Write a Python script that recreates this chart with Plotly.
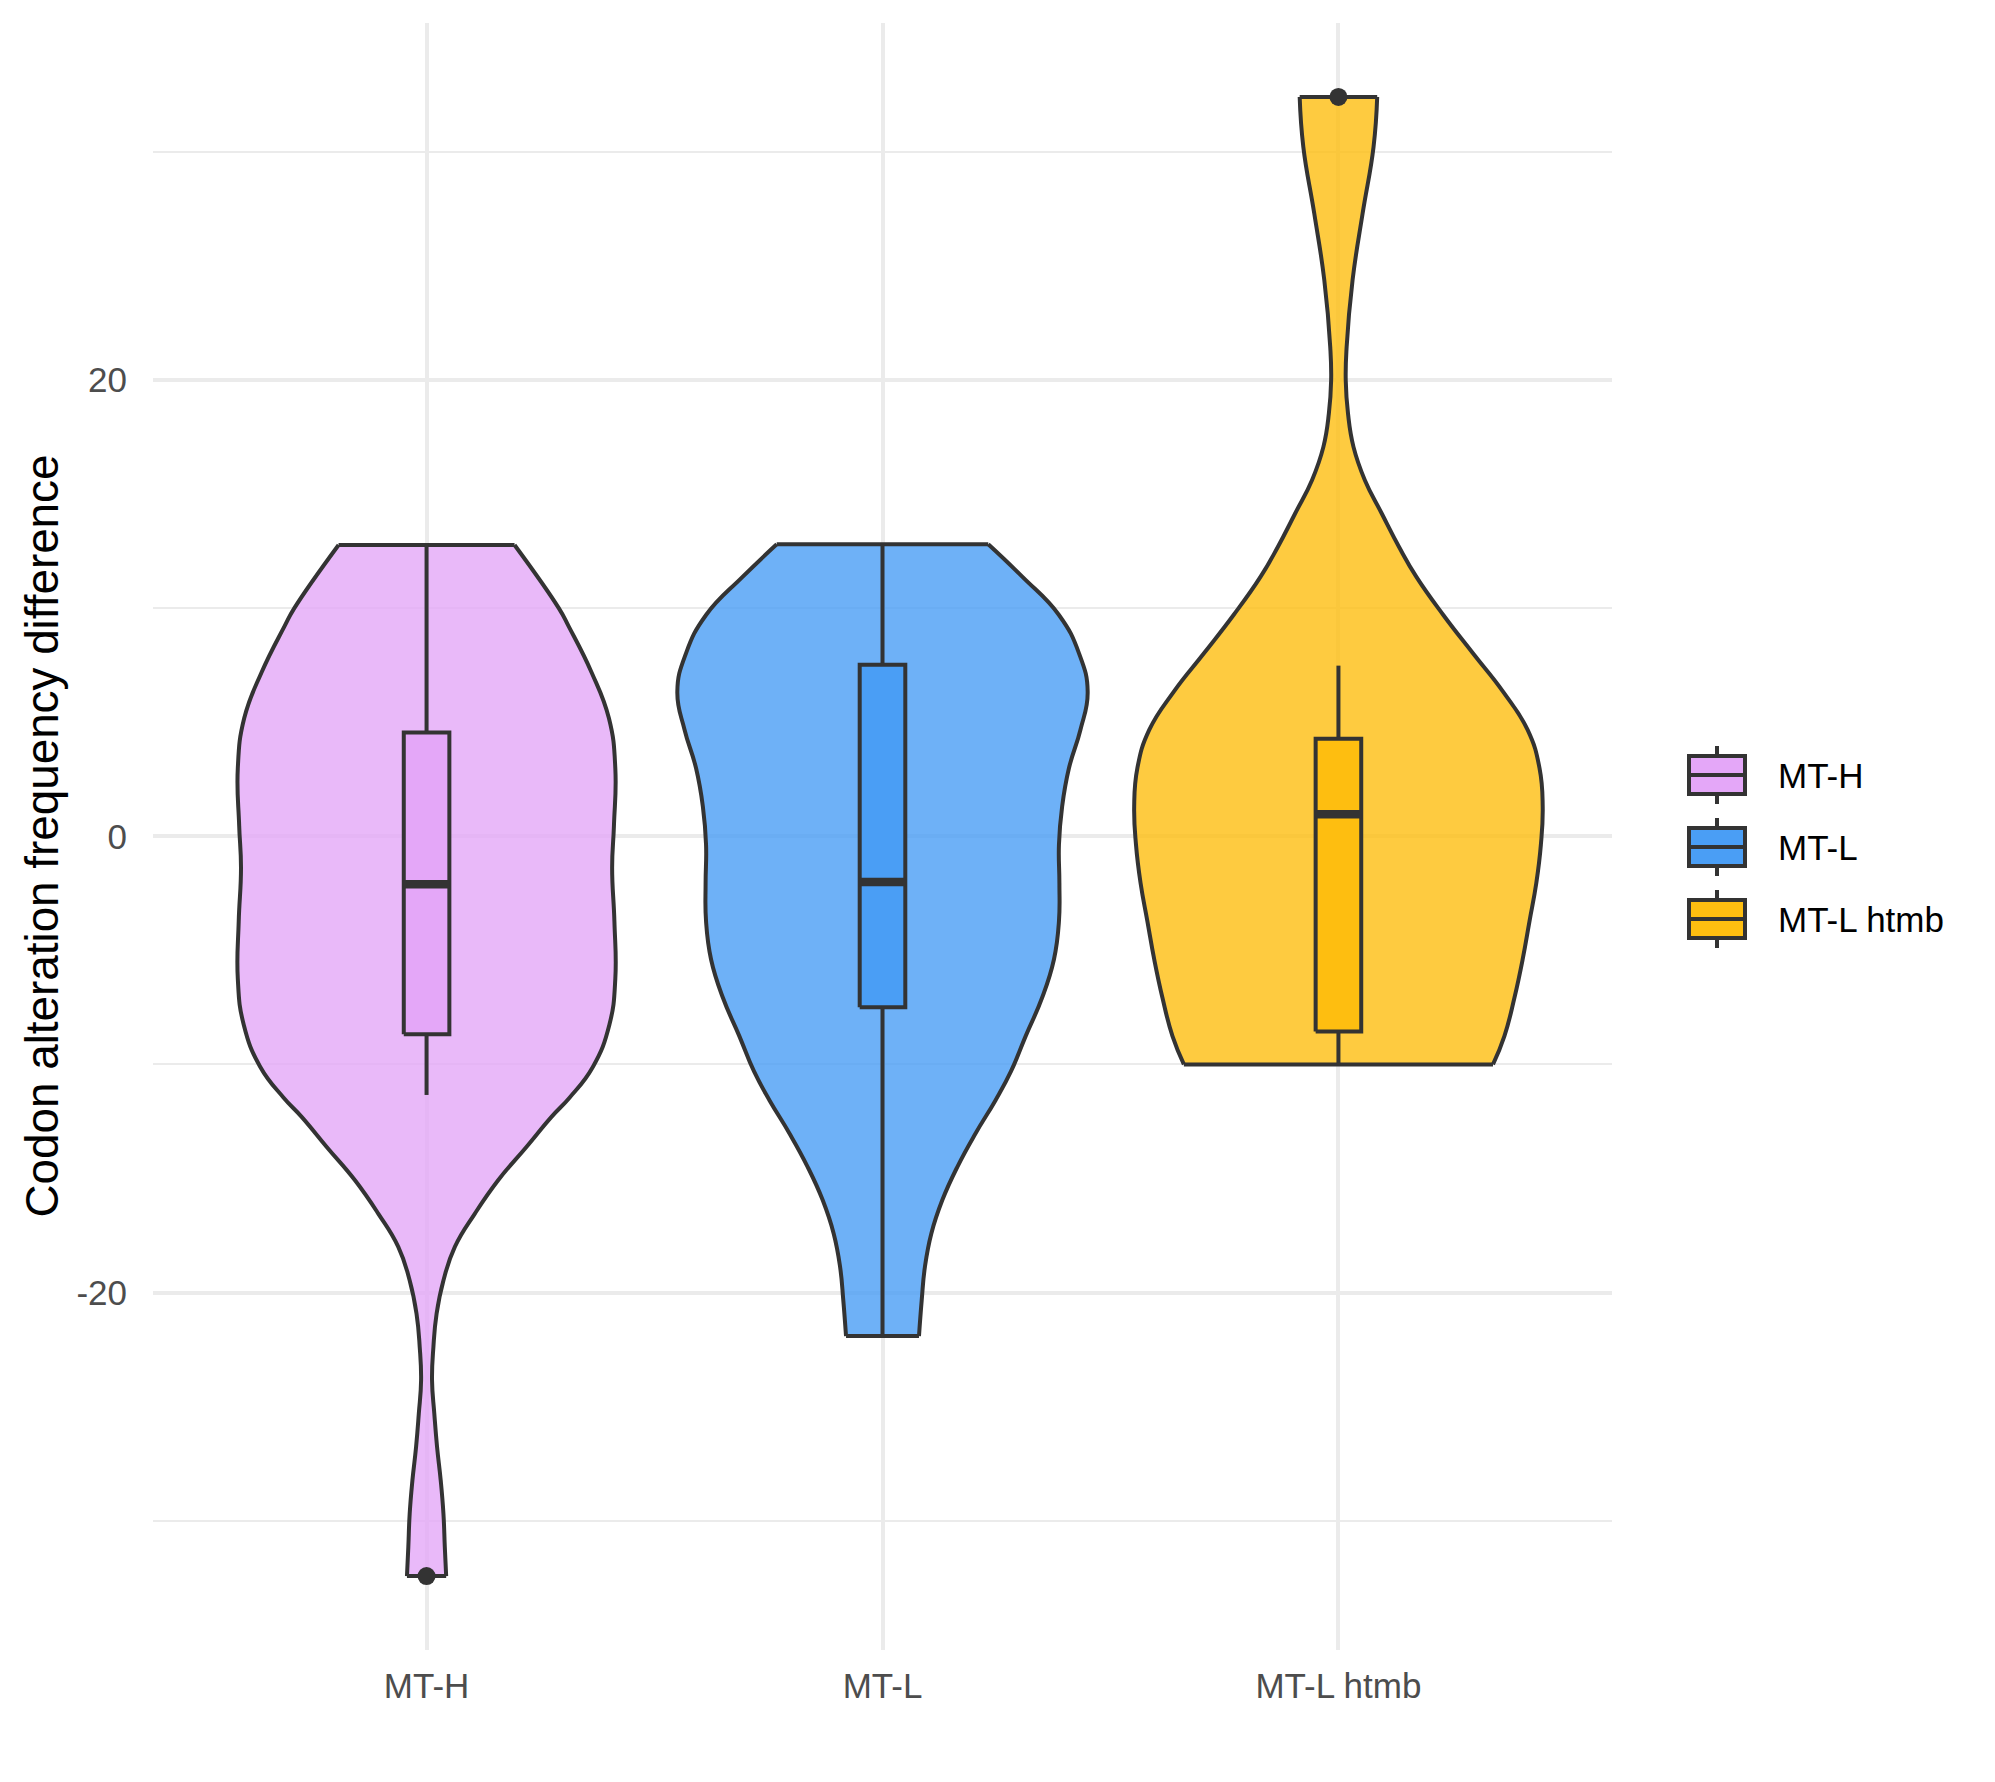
import plotly.graph_objects as go

# ---------------- data ----------------
categories = ["MT-H", "MT-L", "MT-L htmb"]
positions = [1, 2, 3]

# violin outlines: y levels (top -> bottom) and density half-widths (x units)
mth_y = [12.77, 10.0, 9.19, 7.18, 5.17, 2.98, 0.47, -1.38, -3.73, -6.24, -8.26, -10.1,
         -11.45, -12.3, -13.62, -15.08, -16.54, -18.0, -19.47, -20.93, -22.39, -23.85,
         -25.31, -26.77, -28.23, -29.69, -31.15, -32.43]
mth_hw = [0.193, 0.290, 0.312, 0.362, 0.400, 0.414, 0.411, 0.407, 0.412, 0.414, 0.401, 0.365,
          0.314, 0.274, 0.219, 0.157, 0.106, 0.062, 0.037, 0.022, 0.015, 0.012,
          0.017, 0.023, 0.031, 0.037, 0.040, 0.043]

mtl_y = [12.80, 11.37, 9.70, 8.02, 6.34, 4.66, 2.99, 1.31, -0.37, -2.05, -3.73, -5.40,
         -7.08, -8.76, -10.3, -11.57, -13.03, -14.50, -15.96, -17.42, -18.88, -20.34, -21.91]
mtl_hw = [0.232, 0.307, 0.387, 0.431, 0.450, 0.434, 0.409, 0.394, 0.387, 0.388, 0.387, 0.376,
          0.350, 0.314, 0.282, 0.248, 0.204, 0.164, 0.131, 0.107, 0.093, 0.086, 0.080]

mtlh_y = [32.41, 30.22, 27.30, 24.38, 21.45, 19.99, 18.53, 17.07, 15.61, 14.15, 12.68, 11.37,
          9.70, 8.02, 6.34, 4.66, 2.99, 1.31, -0.37, -2.05, -3.73, -5.40, -7.08, -8.76, -10.0]
mtlh_hw = [0.085, 0.077, 0.053, 0.031, 0.018, 0.016, 0.021, 0.033, 0.058, 0.095, 0.133, 0.171,
           0.230, 0.295, 0.361, 0.415, 0.441, 0.448, 0.444, 0.434, 0.419, 0.404, 0.386, 0.364, 0.339]

violin_y = [mth_y, mtl_y, mtlh_y]
violin_hw = [mth_hw, mtl_hw, mtlh_hw]

# box plot statistics
box_lower = [-11.34, -21.91, -10.00]
box_q1 = [-8.68, -7.50, -8.56]
box_median = [-2.10, -2.00, 0.97]
box_q3 = [4.55, 7.52, 4.28]
box_upper = [12.77, 12.80, 7.48]

# outliers
outlier_cat = [1, 3]
outlier_y = [-32.43, 32.41]

y_ticks = [-20, 0, 20]
y_minor = [-30, -10, 10, 30]
y_title = "Codon alteration frequency difference"

# ---------------- style ----------------
W, H = 1995, 1782
PL, PR, PT, PB = 153, 1612, 23, 1650
base_colors = ["#E4A7F8", "#4A9EF5", "#FEBE10"]
violin_alpha = 0.8
OUT = "#333333"
LW = 4.0
MED_LW = 8.5
BOX_W = 0.1
FONT = "Liberation Sans, Arial, Helvetica, sans-serif"
GRID = "#EBEBEB"
SMOOTH = 1.3


def rgba(hexc, a):
    h = hexc.lstrip("#")
    r, g, b = int(h[0:2], 16), int(h[2:4], 16), int(h[4:6], 16)
    return f"rgba({r},{g},{b},{a})"


fig = go.Figure()

# violins
for c, ys, hws, col in zip(positions, violin_y, violin_hw, base_colors):
    left = [c - w for w in hws]
    right = [c + w for w in hws]
    fig.add_trace(go.Scatter(x=left, y=ys, mode="lines",
                             line=dict(color=OUT, width=LW, shape="spline", smoothing=SMOOTH),
                             showlegend=False, hoverinfo="skip"))
    fig.add_trace(go.Scatter(x=right, y=ys, mode="lines", fill="tonextx",
                             fillcolor=rgba(col, violin_alpha),
                             line=dict(color=OUT, width=LW, shape="spline", smoothing=SMOOTH),
                             showlegend=False, hoverinfo="skip"))
    fig.add_trace(go.Scatter(x=[left[0], right[0], None, left[-1], right[-1]],
                             y=[ys[0], ys[0], None, ys[-1], ys[-1]], mode="lines",
                             line=dict(color=OUT, width=LW),
                             showlegend=False, hoverinfo="skip"))

# boxes (whiskers, box, thick median) drawn on top of the violins
for i, (c, name, col) in enumerate(zip(positions, categories, base_colors)):
    xl, xr = c - BOX_W / 2, c + BOX_W / 2
    fig.add_trace(go.Scatter(x=[c, c, None, c, c],
                             y=[box_q3[i], box_upper[i], None, box_q1[i], box_lower[i]],
                             mode="lines", line=dict(color=OUT, width=LW),
                             showlegend=False, hoverinfo="skip"))
    fig.add_trace(go.Scatter(x=[xl, xr, xr, xl, xl],
                             y=[box_q1[i], box_q1[i], box_q3[i], box_q3[i], box_q1[i]],
                             mode="lines", fill="toself", fillcolor=col,
                             line=dict(color=OUT, width=LW),
                             name=name, showlegend=False, hoverinfo="skip"))
    fig.add_trace(go.Scatter(x=[xl, xr], y=[box_median[i], box_median[i]], mode="lines",
                             line=dict(color=OUT, width=MED_LW),
                             showlegend=False, hoverinfo="skip"))

# outliers
fig.add_trace(go.Scatter(x=outlier_cat, y=outlier_y, mode="markers",
                         marker=dict(color=OUT, size=18, line=dict(width=0)),
                         showlegend=False, hoverinfo="skip"))

# axis ranges (ggplot-style 5% / 0.6 expansion)
all_y = [v for ys in violin_y for v in ys] + outlier_y
ymin, ymax = min(all_y), max(all_y)
pad = 0.05 * (ymax - ymin)


def px_x(px):
    return (px - PL) / (PR - PL)


def px_y(py):
    return (PB - py) / (PB - PT)


# custom legend (ggplot-like box keys)
shapes = []
annotations = []
key_x0, key_x1, key_xc = 1689, 1745, 1717
for i, (name, col) in enumerate(zip(categories, base_colors)):
    cy = 775 + i * 72
    shapes.append(dict(type="line", xref="paper", yref="paper",
                       x0=px_x(key_xc), x1=px_x(key_xc), y0=px_y(cy - 29), y1=px_y(cy + 29),
                       line=dict(color=OUT, width=LW), layer="above"))
    shapes.append(dict(type="rect", xref="paper", yref="paper",
                       x0=px_x(key_x0), x1=px_x(key_x1), y0=px_y(cy - 19), y1=px_y(cy + 19),
                       fillcolor=col, line=dict(color=OUT, width=LW), layer="above"))
    shapes.append(dict(type="line", xref="paper", yref="paper",
                       x0=px_x(key_x0), x1=px_x(key_x1), y0=px_y(cy), y1=px_y(cy),
                       line=dict(color=OUT, width=LW), layer="above"))
    annotations.append(dict(xref="paper", yref="paper", x=px_x(1776), y=px_y(cy),
                            xanchor="left", yanchor="middle", text=name, showarrow=False,
                            font=dict(family=FONT, size=35, color="black")))

annotations.append(dict(xref="paper", yref="paper", x=px_x(42), y=px_y(836.5),
                        xanchor="center", yanchor="middle", text=y_title, textangle=-90,
                        showarrow=False, font=dict(family=FONT, size=45.8, color="black")))

fig.update_layout(
    width=W, height=H,
    margin=dict(l=PL, r=W - PR, t=PT, b=H - PB, pad=0),
    paper_bgcolor="white", plot_bgcolor="white",
    showlegend=False,
    font=dict(family=FONT),
    shapes=shapes, annotations=annotations,
    xaxis=dict(range=[0.4, 3.6], tickmode="array", tickvals=positions, ticktext=categories,
               showgrid=True, gridcolor=GRID, gridwidth=3.5, zeroline=False, showline=False,
               ticks="outside", ticklen=5, tickcolor="rgba(0,0,0,0)",
               tickfont=dict(family=FONT, size=35, color="#4D4D4D")),
    yaxis=dict(range=[ymin - pad, ymax + pad], tickmode="array", tickvals=y_ticks,
               ticktext=[str(v) for v in y_ticks],
               showgrid=True, gridcolor=GRID, gridwidth=3.5, zeroline=False, showline=False,
               ticks="outside", ticklen=18, tickcolor="rgba(0,0,0,0)",
               tickfont=dict(family=FONT, size=35, color="#4D4D4D"),
               minor=dict(tickvals=y_minor, showgrid=True, gridcolor=GRID, gridwidth=1.8,
                          ticks="")),
)

fig.write_html("out.html")
